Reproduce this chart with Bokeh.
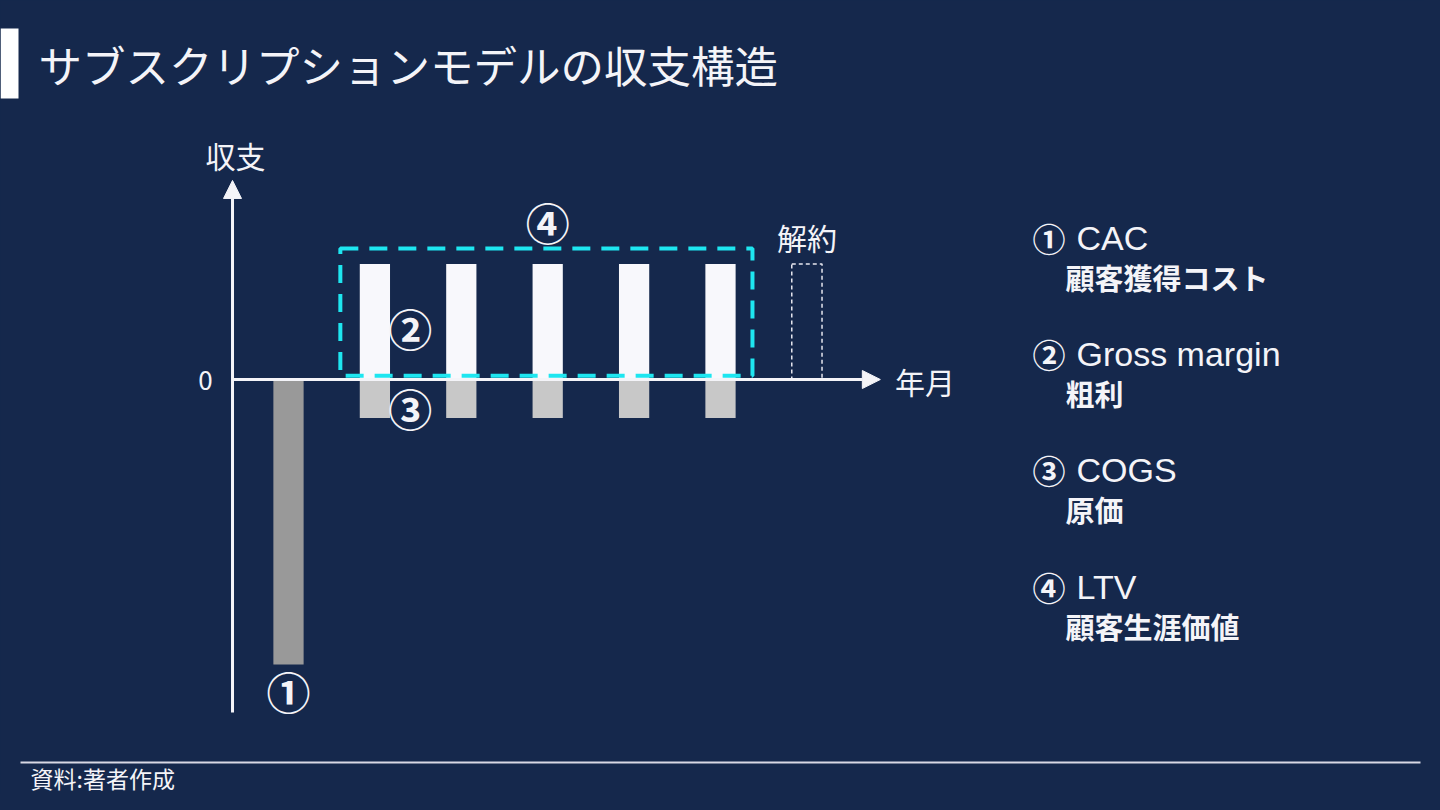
from bokeh.plotting import figure
from bokeh.models import Range1d, Label, BoxAnnotation, Arrow, NormalHead, GlobalInlineStyleSheet
from bokeh.embed import file_html
from bokeh.resources import INLINE

# ---------------- data ----------------
title_text = "サブスクリプションモデルの収支構造"
source_text = "資料:著者作成"
y_axis_label = "収支"
x_axis_label = "年月"
zero_label = "0"
churn_label = "解約"

cac_month = [0]
cac_value = [-7.4]
months = [1, 2, 3, 4, 5]
gross_margin = [3, 3, 3, 3, 3]
cogs = [-1, -1, -1, -1, -1]
churn_month = [6]
churn_value = [3]

legend_marks = ["①", "②", "③", "④"]
legend_terms = ["CAC", "Gross margin", "COGS", "LTV"]
legend_japanese = ["顧客獲得コスト", "粗利", "原価", "顧客生涯価値"]

# ---------------- style ----------------
BG = "#15284C"
FG = "#F4F4F8"
CYAN = "#1EE6F0"
JP = "Noto Sans CJK JP"
LATIN = "Liberation Sans"

W, H = 1424, 794
PX_PER_MONTH = 86.4
PX_PER_UNIT = 38.5
ORIGIN_X = 288.0   # canvas px of month 0
ORIGIN_Y = 379.0   # canvas px (from top) of value 0

p = figure(
    width=W, height=H,
    x_range=Range1d(-ORIGIN_X / PX_PER_MONTH, (W - ORIGIN_X) / PX_PER_MONTH),
    y_range=Range1d((ORIGIN_Y - H) / PX_PER_UNIT, ORIGIN_Y / PX_PER_UNIT),
    output_backend="svg", toolbar_location=None,
    x_axis_location=None, y_axis_location=None,
    min_border=0, title=None,
    background_fill_color=BG, border_fill_color=BG, outline_line_color=None,
)
p.xgrid.visible = False
p.ygrid.visible = False
p.stylesheets = [GlobalInlineStyleSheet(css="body { background-color: #15284C; }")]

BAR_W = 0.35

# bars
p.vbar(x=cac_month, top=0, bottom=cac_value, width=BAR_W,
       fill_color="#999999", line_color=None)
p.vbar(x=months, top=gross_margin, bottom=0, width=BAR_W,
       fill_color="#F8F8FC", line_color=None)
p.vbar(x=months, top=0, bottom=cogs, width=BAR_W,
       fill_color="#C8C8C8", line_color=None)
p.vbar(x=churn_month, top=churn_value, bottom=0, width=BAR_W,
       fill_alpha=0, line_color="#E6E6EE", line_width=1.5, line_dash="4 3")

# LTV box
p.quad(left=[min(months) - 0.40], right=[max(months) + 0.37],
       top=[max(gross_margin) + 0.40], bottom=[0.10],
       fill_alpha=0, line_color=CYAN, line_width=4, line_dash="18 11")

# axes with arrows
yaxis_x = -0.648
p.add_layout(Arrow(end=NormalHead(size=18, fill_color=FG, line_color=FG),
                   x_start=yaxis_x, y_start=-8.65, x_end=yaxis_x, y_end=5.17,
                   line_color=FG, line_width=3))
p.add_layout(Arrow(end=NormalHead(size=18, fill_color=FG, line_color=FG),
                   x_start=yaxis_x, y_start=0, x_end=6.85, y_end=0,
                   line_color=FG, line_width=3))


def dlabel(x, y, text, size, font=JP, style="normal", align="center"):
    p.add_layout(Label(x=x, y=y, text=text, text_font=font,
                       text_font_size=f"{size}px", text_font_style=style,
                       text_color=FG, text_align=align, text_baseline="middle"))


# chart labels
dlabel(yaxis_x + 0.035, 5.82, y_axis_label, 30)
dlabel(yaxis_x - 0.23, -0.03, zero_label, 26, align="right")
dlabel(7.02, -0.05, x_axis_label, 30, align="left")
dlabel(churn_month[0], churn_value[0] + 0.69, churn_label, 30)
dlabel(cac_month[0], cac_value[0] - 0.68, legend_marks[0], 44, style="bold")
dlabel(months[0] + 0.41, 1.35, legend_marks[1], 44, style="bold")
dlabel(months[0] + 0.41, -0.73, legend_marks[2], 44, style="bold")
dlabel(months[2], max(gross_margin) + 1.08, legend_marks[3], 44, style="bold")


def slabel(x, y, text, size, font=JP, style="normal", align="left", color=FG):
    # x, y given as page pixels from top-left
    p.add_layout(Label(x=x, y=H - y, x_units="screen", y_units="screen", text=text,
                       text_font=font, text_font_size=f"{size}px",
                       text_font_style=style, text_color=color,
                       text_align=align, text_baseline="middle"))


# title
p.add_layout(BoxAnnotation(left=0, right=18, top=H - 28, bottom=H - 98,
                           left_units="screen", right_units="screen",
                           top_units="screen", bottom_units="screen",
                           fill_color="#FFFFFF", fill_alpha=1, line_color=None))
slabel(38, 64, title_text, 43.5)

# legend
legend_y = [237, 353, 469, 586]
for mark, term, jp, y in zip(legend_marks, legend_terms, legend_japanese, legend_y):
    slabel(1032, y, mark, 33, style="bold")
    slabel(1076, y, term, 34, font=LATIN)
    slabel(1065, y + 39, jp, 29, style="bold")

# footer
p.add_layout(BoxAnnotation(left=20, right=1420, top=H - 761, bottom=H - 763,
                           left_units="screen", right_units="screen",
                           top_units="screen", bottom_units="screen",
                           fill_color="#D8D8E4", fill_alpha=1, line_color=None))
slabel(30, 777, source_text, 23)

open("out.html", "w").write(file_html(p, INLINE))
